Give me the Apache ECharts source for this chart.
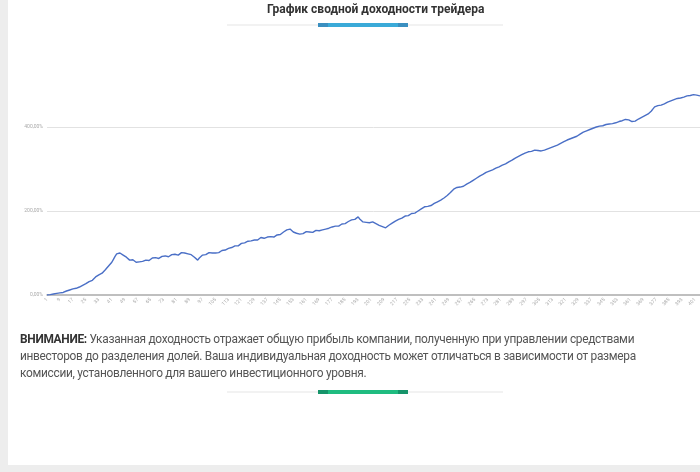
<!DOCTYPE html>
<html>
<head>
<meta charset="utf-8">
<script src="https://cdn.jsdelivr.net/npm/echarts@6/dist/echarts.min.js"></script>
<style>
html,body{margin:0;padding:0;background:#ededed;}
#wrap{position:relative;width:700px;height:472px;background:#ededed;overflow:hidden;}
#card{position:absolute;left:8px;top:0;width:692px;height:465px;background:#fff;}
#chart{position:absolute;left:0;top:0;width:700px;height:472px;}
#note{position:absolute;left:20px;top:331px;width:680px;font-family:Roboto,"Noto Sans",sans-serif;font-size:11.9px;line-height:17px;color:#555;letter-spacing:-0.3px;}
#note b{color:#333;}
</style>
</head>
<body>
<div id="wrap">
<div id="card"></div>
<div id="chart"></div>
<div id="note"><b>ВНИМАНИЕ:</b> Указанная доходность отражает общую прибыль компании, полученную при управлении средствами<br>инвесторов до разделения долей. Ваша индивидуальная доходность может отличаться в зависимости от размера<br>комиссии, установленного для вашего инвестиционного уровня.</div>
</div>
<script>
const titleText = "График сводной доходности трейдера";
const yTicks = [0, 200, 400];
const values = [
0,0.5,1,1.8,2.5,3,
4,3.5,5,6.5,6,8,9.5,10,12,
13,14.5,14,16,18,19,21,23,26,
27,30,32,31,35,39,43,
45,48,47,52,56,60,
64,69,73,78,
85,92,98,102,
100,96,95,93,
90,86,83,
81,84,80,78,81,79,
82,80,84,83,86,82,86,
88,85,89,91,87,90,
92,89,93,95,91,93,
96,94,97,99,95,98,
101,97,100,102,98,100,
96,93,90,86,83,
88,91,95,98,
96,99,101,97,100,102,100,
103,101,104,106,104,107,
109,111,110,113,115,117,
119,117,121,123,121,124,
126,128,126,129,132,131,
133,131,134,137,134,135,136,
138,136,139,141,138,140,
143,145,144,148,150,152,
155,154,157,
153,150,151,147,146,145,
148,146,149,151,148,150,
152,149,151,154,150,153,152,
155,154,157,156,159,160,
162,161,164,166,164,167,
169,171,170,173,175,176,
179,181,180,184,186,
181,177,174,171,
173,170,172,175,174,
172,170,168,166,164,
163,161,160,
163,166,169,171,174,176,
178,180,182,183,186,188,
190,189,192,194,193,195,
198,200,202,205,207,210,
212,211,214,213,216,218,219,
222,224,226,228,231,233,
237,241,244,248,252,255,
256,258,257,260,259,262,
264,266,268,271,273,276,
278,280,283,285,287,290,
292,293,295,297,298,300,302,
304,305,307,309,310,312,
315,317,319,321,324,326,
328,330,332,334,336,338,
340,341,343,342,344,345,
346,344,345,343,344,345,
347,348,350,351,352,354,355,
357,359,361,363,365,367,
369,370,372,373,375,376,
378,380,383,385,388,390,
391,393,394,396,397,398,
400,401,402,404,403,405,
406,408,407,409,408,410,410,
412,413,412,415,416,418,419,
417,415,413,412,
414,417,419,421,
423,425,427,429,431,433,
438,443,448,
449,451,450,452,454,455,
457,459,460,462,464,465,467,
468,467,469,470,471,
472,474,473,475,476,
477,475,476,474,474
];
const categories = values.map((v, i) => String(i + 1));

const chart = echarts.init(document.getElementById('chart'), null, {renderer: 'canvas'});
chart.setOption({
  backgroundColor: 'transparent',
  animation: false,
  title: {
    text: titleText, left: 262, top: -1,
    textStyle: {fontFamily: 'Roboto', fontWeight: 'bold', fontSize: 12, color: '#333'}
  },
  graphic: [
    {type: 'rect', shape: {x: 227, y: 24.5, width: 276, height: 1}, style: {fill: '#e6e6e6'}},
    {type: 'rect', shape: {x: 318, y: 23, width: 90, height: 4}, style: {fill: '#3aaad8'}},
    {type: 'rect', shape: {x: 318, y: 23, width: 10, height: 4}, style: {fill: '#3a8fc0'}},
    {type: 'rect', shape: {x: 398, y: 23, width: 10, height: 4}, style: {fill: '#3a8fc0'}},
    {type: 'rect', shape: {x: 227, y: 391.5, width: 276, height: 1}, style: {fill: '#e6e6e6'}},
    {type: 'rect', shape: {x: 318, y: 390, width: 90, height: 4}, style: {fill: '#1fbc80'}},
    {type: 'rect', shape: {x: 318, y: 390, width: 10, height: 4}, style: {fill: '#16946a'}},
    {type: 'rect', shape: {x: 398, y: 390, width: 10, height: 4}, style: {fill: '#16946a'}}
  ],
  grid: {left: 47, right: 0, top: 85, bottom: 177, containLabel: false},
  xAxis: {
    type: 'category', data: categories, boundaryGap: false,
    axisLine: {lineStyle: {color: '#aaaaaa', width: 1.5}},
    axisTick: {show: false},
    axisLabel: {interval: 7, rotate: 45, fontSize: 5, color: '#aaaaaa', margin: 4, fontFamily: 'Roboto'},
    splitLine: {show: false}
  },
  yAxis: {
    type: 'value', min: 0, max: 500, interval: 200,
    axisLine: {show: false}, axisTick: {show: false},
    axisLabel: {
      fontSize: 5, color: '#aaaaaa', margin: 4, fontFamily: 'Roboto',
      formatter: v => yTicks.indexOf(v) >= 0 ? v.toFixed(2).replace('.', ',') + '%' : ''
    },
    splitLine: {show: false}
  },
  series: [{
    type: 'line', data: values, showSymbol: false, symbol: 'none',
    lineStyle: {color: '#4a6fc6', width: 1.4}, smooth: false,
    markLine: {
      silent: true, symbol: 'none', label: {show: false}, z: 1,
      lineStyle: {color: '#e2e2e2', width: 1, type: 'solid'},
      data: yTicks.slice(1).map(v => ({yAxis: v}))
    }
  }]
});
</script>
</body>
</html>
